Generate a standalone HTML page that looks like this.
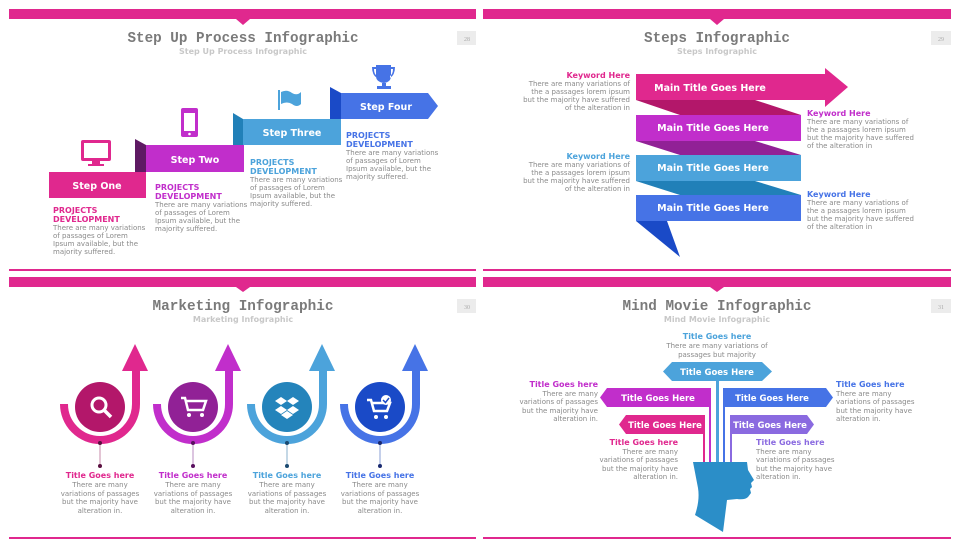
<!DOCTYPE html>
<html><head><meta charset="utf-8"><style>
html,body{margin:0;padding:0;background:#fff;}
svg{display:block;}
.t{font-family:"Liberation Mono",monospace;font-weight:bold;font-size:15px;fill:#7a7a7a;text-anchor:middle;}
.s{font-family:"DejaVu Sans",sans-serif;font-weight:bold;font-size:8px;fill:#c8c8c8;text-anchor:middle;}
.b{font-family:"DejaVu Sans",sans-serif;font-size:7px;fill:#8a8a8a;}
.h{font-family:"DejaVu Sans",sans-serif;font-weight:bold;font-size:8px;}
.w{font-family:"DejaVu Sans",sans-serif;font-weight:bold;font-size:9.5px;fill:#fff;text-anchor:middle;}
.w2{font-family:"DejaVu Sans",sans-serif;font-weight:bold;font-size:8.5px;fill:#fff;text-anchor:middle;}
.n{font-family:"Liberation Serif",serif;font-size:6px;fill:#aaa;text-anchor:middle;}
</style></head><body>
<svg width="960" height="548" viewBox="0 0 960 548" xmlns="http://www.w3.org/2000/svg">
<g fill="#e0288e">
<rect x="9" y="9" width="467" height="10"/><polygon points="236,19 250,19 243,25"/><rect x="9" y="269" width="467" height="2"/>
<rect x="483" y="9" width="468" height="10"/><polygon points="710,19 724,19 717,25"/><rect x="483" y="269" width="468" height="2"/>
<rect x="9" y="277" width="467" height="10"/><polygon points="236,287 250,287 243,292"/><rect x="9" y="537" width="467" height="2"/>
<rect x="483" y="277" width="468" height="10"/><polygon points="710,287 724,287 717,292"/><rect x="483" y="537" width="468" height="2"/>
</g>
<g fill="#ececec"><rect x="457" y="31" width="19" height="14"/><rect x="931" y="31" width="20" height="14"/><rect x="457" y="299" width="19" height="14"/><rect x="931" y="299" width="20" height="14"/></g>
<text class="n" x="467" y="41">28</text><text class="n" x="941" y="41">29</text><text class="n" x="467" y="309">30</text><text class="n" x="941" y="309">31</text>
<text class="t" x="243" y="42" textLength="231" lengthAdjust="spacingAndGlyphs">Step Up Process Infographic</text><text class="s" x="243" y="54">Step Up Process Infographic</text>
<text class="t" x="717" y="42" textLength="146" lengthAdjust="spacingAndGlyphs">Steps Infographic</text><text class="s" x="717" y="54">Steps Infographic</text>
<text class="t" x="243" y="310" textLength="181" lengthAdjust="spacingAndGlyphs">Marketing Infographic</text><text class="s" x="243" y="322">Marketing Infographic</text>
<text class="t" x="717" y="310" textLength="189" lengthAdjust="spacingAndGlyphs">Mind Movie Infographic</text><text class="s" x="717" y="322">Mind Movie Infographic</text>

<!-- Q1 -->
<polygon points="135,139 146,145 146,172 135,172" fill="#5e1a63"/>
<polygon points="233,113 243,119 243,145 233,145" fill="#2180b8"/>
<polygon points="330,87 341,93 341,119 330,119" fill="#1a4ac7"/>
<rect x="49" y="172" width="97" height="26" fill="#e0288e"/>
<rect x="146" y="145" width="98" height="27" fill="#c12ecb"/>
<rect x="243" y="119" width="98" height="26" fill="#4ca3db"/>
<polygon points="341,93 428,93 438,106 428,119 341,119" fill="#4673e6"/>
<text class="w" x="97" y="189">Step One</text><text class="w" x="195" y="163">Step Two</text>
<text class="w" x="292" y="136">Step Three</text><text class="w" x="386" y="110">Step Four</text>
<rect x="81" y="140" width="30" height="21" rx="2" fill="#e0288e"/><rect x="84" y="143" width="24" height="15" fill="#fff"/><rect x="92" y="161" width="8" height="3" fill="#e0288e"/><rect x="88" y="164" width="16" height="2" fill="#e0288e"/>
<rect x="181" y="108" width="17" height="29" rx="2" fill="#c12ecb"/><rect x="184" y="113" width="11" height="18" fill="#fff"/><circle cx="189.5" cy="134" r="1.3" fill="#fff"/>
<rect x="278" y="90" width="2" height="20" fill="#4ca3db"/><path d="M281,92 Q287,89 292,93 Q297,96 301,92 L301,104 Q297,108 292,104 Q287,101 281,104 Z" fill="#4ca3db"/>
<path d="M376,65 L391,65 L391,76 Q391,82 384,83 Q376,82 376,76 Z M372,67 L376,67 L376,69 L374,69 Q374,74 377,76 L377,78 Q372,75 372,67 Z M395,67 L391,67 L391,69 L393,69 Q393,74 390,76 L390,78 Q395,75 395,67 Z" fill="#4673e6"/><rect x="382" y="83" width="4" height="3" fill="#4673e6"/><rect x="377" y="86" width="14" height="3" fill="#4673e6"/>
<g class="b">
<text class="h" x="53" y="213" fill="#e0288e">PROJECTS</text><text class="h" x="53" y="222" fill="#e0288e">DEVELOPMENT</text>
<text x="53" y="230">There are many variations</text><text x="53" y="238">of passages of Lorem</text><text x="53" y="246">Ipsum available, but the</text><text x="53" y="254">majority suffered.</text>
<text class="h" x="155" y="190" fill="#c12ecb">PROJECTS</text><text class="h" x="155" y="199" fill="#c12ecb">DEVELOPMENT</text>
<text x="155" y="207">There are many variations</text><text x="155" y="215">of passages of Lorem</text><text x="155" y="223">Ipsum available, but the</text><text x="155" y="231">majority suffered.</text>
<text class="h" x="250" y="165" fill="#4ca3db">PROJECTS</text><text class="h" x="250" y="174" fill="#4ca3db">DEVELOPMENT</text>
<text x="250" y="182">There are many variations</text><text x="250" y="190">of passages of Lorem</text><text x="250" y="198">Ipsum available, but the</text><text x="250" y="206">majority suffered.</text>
<text class="h" x="346" y="138" fill="#4673e6">PROJECTS</text><text class="h" x="346" y="147" fill="#4673e6">DEVELOPMENT</text>
<text x="346" y="155">There are many variations</text><text x="346" y="163">of passages of Lorem</text><text x="346" y="171">Ipsum available, but the</text><text x="346" y="179">majority suffered.</text>
</g>

<!-- Q2 -->
<polygon points="636,100 755,100 801,115 680,115" fill="#b3176a"/>
<polygon points="636,141 755,141 801,155 680,155" fill="#912196"/>
<polygon points="636,181 755,181 801,195 680,195" fill="#2180b8"/>
<polygon points="636,221 667,221 680,257" fill="#1a4ac7"/>
<polygon points="636,74 825,74 825,68 848,87 825,107 825,100 636,100" fill="#e0288e"/>
<rect x="636" y="115" width="165" height="26" fill="#c12ecb"/>
<rect x="636" y="155" width="165" height="26" fill="#4ca3db"/>
<rect x="636" y="195" width="165" height="26" fill="#4673e6"/>
<text class="w" x="710" y="91">Main Title Goes Here</text><text class="w" x="713" y="131">Main Title Goes Here</text>
<text class="w" x="713" y="171">Main Title Goes Here</text><text class="w" x="713" y="211">Main Title Goes Here</text>
<g class="b" text-anchor="end">
<text class="h" x="630" y="78" fill="#e0288e" text-anchor="end">Keyword Here</text><text x="630" y="86">There are many variations of</text><text x="630" y="94">the a passages lorem ipsum</text><text x="630" y="102">but the majority have suffered</text><text x="630" y="110">of the alteration in</text>
<text class="h" x="630" y="159" fill="#4ca3db" text-anchor="end">Keyword Here</text><text x="630" y="167">There are many variations of</text><text x="630" y="175">the a passages lorem ipsum</text><text x="630" y="183">but the majority have suffered</text><text x="630" y="191">of the alteration in</text>
</g>
<g class="b">
<text class="h" x="807" y="116" fill="#c12ecb">Keyword Here</text><text x="807" y="124">There are many variations of</text><text x="807" y="132">the a passages lorem ipsum</text><text x="807" y="140">but the majority have suffered</text><text x="807" y="148">of the alteration in</text>
<text class="h" x="807" y="197" fill="#4673e6">Keyword Here</text><text x="807" y="205">There are many variations of</text><text x="807" y="213">the a passages lorem ipsum</text><text x="807" y="221">but the majority have suffered</text><text x="807" y="229">of the alteration in</text>
</g>

<!-- Q3 -->
<g fill="none" stroke-width="8">
<path d="M64,404 A36,36 0 0 0 136,404 L136,370" stroke="#e0288e"/>
<path d="M157,404 A36,36 0 0 0 229,404 L229,370" stroke="#c12ecb"/>
<path d="M251,404 A36,36 0 0 0 323,404 L323,370" stroke="#4ca3db"/>
<path d="M344,404 A36,36 0 0 0 416,404 L416,370" stroke="#4673e6"/>
</g>
<polygon points="122,371 148,371 135,344" fill="#e0288e"/>
<polygon points="215,371 241,371 228,344" fill="#c12ecb"/>
<polygon points="309,371 335,371 322,344" fill="#4ca3db"/>
<polygon points="402,371 428,371 415,344" fill="#4673e6"/>
<circle cx="100" cy="407" r="25" fill="#b3176a"/><circle cx="193" cy="407" r="25" fill="#912196"/>
<circle cx="287" cy="407" r="25" fill="#2484bb"/><circle cx="380" cy="407" r="25" fill="#1a4ac7"/>
<circle cx="99" cy="405" r="7" fill="none" stroke="#fff" stroke-width="3"/><line x1="104" y1="410" x2="111" y2="417" stroke="#fff" stroke-width="3.5"/>
<path d="M181,398 L185,398 L188,410 L203,410 L206,401 L186,401" fill="none" stroke="#fff" stroke-width="2.5"/><circle cx="189" cy="415" r="2" fill="#fff"/><circle cx="202" cy="415" r="2" fill="#fff"/>
<g fill="#fff"><polygon points="281,397 287,401 281,405 275,401"/><polygon points="293,397 299,401 293,405 287,401"/><polygon points="281,406 287,410 281,414 275,410"/><polygon points="293,406 299,410 293,414 287,410"/><polygon points="281,415 287,411 293,415 287,419"/></g>
<path d="M367,400 L371,400 L374,411 L387,411 L390,403 L372,403" fill="none" stroke="#fff" stroke-width="2.5"/><circle cx="376" cy="417" r="2" fill="#fff"/><circle cx="386" cy="417" r="2" fill="#fff"/><circle cx="386" cy="400" r="5" fill="#fff"/><path d="M383,400 L385.5,402.5 L389,398" stroke="#1a4ac7" stroke-width="1.5" fill="none"/>
<g stroke-width="1"><line x1="100" y1="443" x2="100" y2="466" stroke="#c78aa8"/><line x1="193" y1="443" x2="193" y2="466" stroke="#b88bc0"/><line x1="287" y1="443" x2="287" y2="466" stroke="#8ab2cc"/><line x1="380" y1="443" x2="380" y2="466" stroke="#8a9fd6"/></g>
<g fill="#5a1040"><circle cx="100" cy="443" r="2"/><circle cx="100" cy="466" r="2"/></g><g fill="#5a1060"><circle cx="193" cy="443" r="2"/><circle cx="193" cy="466" r="2"/></g><g fill="#1a4a70"><circle cx="287" cy="443" r="2"/><circle cx="287" cy="466" r="2"/></g><g fill="#1a2a70"><circle cx="380" cy="443" r="2"/><circle cx="380" cy="466" r="2"/></g>
<g class="b" text-anchor="middle">
<text class="h" x="100" y="478" fill="#e0288e" text-anchor="middle">Title Goes here</text><text x="100" y="487">There are many</text><text x="100" y="496">variations of passages</text><text x="100" y="504">but the majority have</text><text x="100" y="513">alteration in.</text>
<text class="h" x="193" y="478" fill="#c12ecb" text-anchor="middle">Title Goes here</text><text x="193" y="487">There are many</text><text x="193" y="496">variations of passages</text><text x="193" y="504">but the majority have</text><text x="193" y="513">alteration in.</text>
<text class="h" x="287" y="478" fill="#4ca3db" text-anchor="middle">Title Goes here</text><text x="287" y="487">There are many</text><text x="287" y="496">variations of passages</text><text x="287" y="504">but the majority have</text><text x="287" y="513">alteration in.</text>
<text class="h" x="380" y="478" fill="#4673e6" text-anchor="middle">Title Goes here</text><text x="380" y="487">There are many</text><text x="380" y="496">variations of passages</text><text x="380" y="504">but the majority have</text><text x="380" y="513">alteration in.</text>
</g>

<!-- Q4 -->
<g stroke-width="2"><line x1="704" y1="425" x2="704" y2="465" stroke="#e0288e"/><line x1="710" y1="398" x2="710" y2="465" stroke="#c12ecb"/><line x1="717.5" y1="381" x2="717.5" y2="465" stroke="#4ca3db" stroke-width="3"/><line x1="724" y1="398" x2="724" y2="465" stroke="#4673e6"/><line x1="731" y1="425" x2="731" y2="465" stroke="#8a6ae0"/></g>
<polygon points="672,362 762,362 772,371.5 762,381 672,381 663,371.5" fill="#4ca3db"/>
<polygon points="607,388 711,388 711,407 607,407 600,397.5" fill="#c12ecb"/>
<polygon points="626,415 705,415 705,434 626,434 619,424.5" fill="#e0288e"/>
<polygon points="723,388 826,388 833,397.5 826,407 723,407" fill="#4673e6"/>
<polygon points="730,415 807,415 814,424.5 807,434 730,434" fill="#8a6ae0"/>
<text class="w2" x="717" y="375">Title Goes Here</text><text class="w2" x="658" y="401">Title Goes Here</text><text class="w2" x="665" y="428">Title Goes Here</text><text class="w2" x="772" y="401">Title Goes Here</text><text class="w2" x="770" y="428">Title Goes Here</text>
<path d="M693,462 L747,462 L748,470 L754,480 L751,483 L752,487 L750,489 L751,493 L748,497 Q745,500 737,499 L727,500 L723,532 L695,515 Q700,500 698,488 Z" fill="#2b8ec8"/>
<g class="b" text-anchor="middle"><text class="h" x="717" y="339" fill="#4ca3db" text-anchor="middle">Title Goes here</text><text x="717" y="348">There are many variations of</text><text x="717" y="357">passages but majority</text></g>
<g class="b" text-anchor="end">
<text class="h" x="598" y="387" fill="#c12ecb" text-anchor="end">Title Goes here</text><text x="598" y="396">There are many</text><text x="598" y="404">variations of passages</text><text x="598" y="413">but the majority have</text><text x="598" y="421">alteration in.</text>
<text class="h" x="678" y="445" fill="#e0288e" text-anchor="end">Title Goes here</text><text x="678" y="454">There are many</text><text x="678" y="462">variations of passages</text><text x="678" y="471">but the majority have</text><text x="678" y="479">alteration in.</text>
</g>
<g class="b">
<text class="h" x="836" y="387" fill="#4673e6">Title Goes here</text><text x="836" y="396">There are many</text><text x="836" y="404">variations of passages</text><text x="836" y="413">but the majority have</text><text x="836" y="421">alteration in.</text>
<text class="h" x="756" y="445" fill="#8a6ae0">Title Goes here</text><text x="756" y="454">There are many</text><text x="756" y="462">variations of passages</text><text x="756" y="471">but the majority have</text><text x="756" y="479">alteration in.</text>
</g>
</svg>
</body></html>
